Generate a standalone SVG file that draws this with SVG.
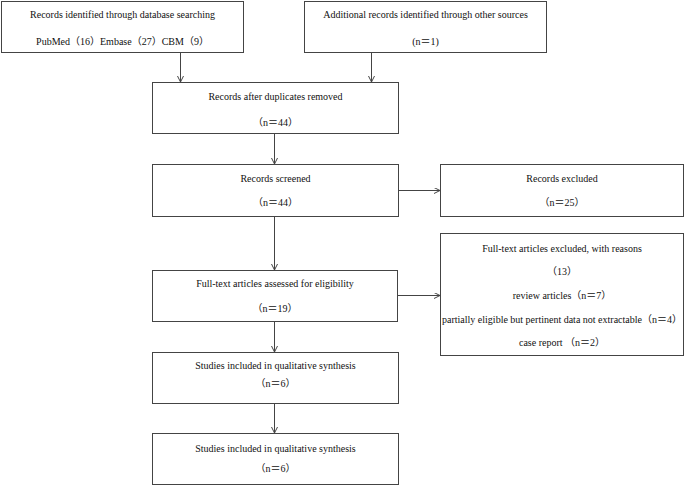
<svg xmlns="http://www.w3.org/2000/svg" width="685" height="486" viewBox="0 0 685 486">
<style>
.box{fill:#fff;stroke:#444;stroke-width:1}
.t{font-family:'Liberation Serif','Times New Roman','DejaVu Serif','Noto Sans CJK SC',serif;font-size:10px;fill:#111;text-anchor:middle}
.c{fill:none;stroke:#444;stroke-width:1}
</style>
<defs>
<marker id="ah" markerWidth="8" markerHeight="8" refX="6" refY="3" orient="auto" markerUnits="userSpaceOnUse">
<path d="M0,0 L6,3 L0,6" fill="none" stroke="#444" stroke-width="1"/>
</marker>
</defs>
<rect width="685" height="486" fill="#fff"/>
<g id="connectors">
<path class="c" d="M180.5,52 V82" marker-end="url(#ah)"/>
<path class="c" d="M371.5,52 V82" marker-end="url(#ah)"/>
<path class="c" d="M274.5,133 V164" marker-end="url(#ah)"/>
<path class="c" d="M399,190.5 H440" marker-end="url(#ah)"/>
<path class="c" d="M274.5,216 V270" marker-end="url(#ah)"/>
<path class="c" d="M397,295.5 H440" marker-end="url(#ah)"/>
<path class="c" d="M274.5,321 V352" marker-end="url(#ah)"/>
<path class="c" d="M274.5,403 V433" marker-end="url(#ah)"/>
</g>
<g id="db">
<rect class="box" x="1.5" y="1.5" width="242" height="51"/>
<text class="t" x="122.5" y="18">Records identified through database searching</text>
<text class="t" x="122.5" y="45">PubMed（16）Embase（27）CBM（9）</text>
</g>
<g id="other">
<rect class="box" x="304.5" y="1.5" width="242" height="51"/>
<text class="t" x="425.5" y="18">Additional records identified through other sources</text>
<text class="t" x="425.5" y="45">(n＝1)</text>
</g>
<g id="dup">
<rect class="box" x="152.5" y="82.5" width="246" height="51"/>
<text class="t" x="275.5" y="100">Records after duplicates removed</text>
<text class="t" x="275.5" y="126">（n＝44）</text>
</g>
<g id="screened">
<rect class="box" x="152.5" y="164.5" width="246" height="52"/>
<text class="t" x="275.5" y="182">Records screened</text>
<text class="t" x="275.5" y="206">（n＝44）</text>
</g>
<g id="excluded">
<rect class="box" x="440.5" y="164.5" width="243" height="52"/>
<text class="t" x="562" y="182">Records excluded</text>
<text class="t" x="562" y="206">（n＝25）</text>
</g>
<g id="fulltext">
<rect class="box" x="152.5" y="270.5" width="245" height="51"/>
<text class="t" x="275" y="287">Full-text articles assessed for eligibility</text>
<text class="t" x="275" y="312">（n＝19）</text>
</g>
<g id="ftexcluded">
<rect class="box" x="440.5" y="233.5" width="243" height="122"/>
<text class="t" x="562" y="252">Full-text articles excluded, with reasons</text>
<text class="t" x="562" y="275">（13）</text>
<text class="t" x="562" y="299">review articles（n＝7）</text>
<text class="t" x="562" y="323">partially eligible but pertinent data not extractable（n＝4）</text>
<text class="t" x="562" y="346">case report （n＝2）</text>
</g>
<g id="qual1">
<rect class="box" x="152.5" y="352.5" width="246" height="51"/>
<text class="t" x="275.5" y="369">Studies included in qualitative synthesis</text>
<text class="t" x="275.5" y="387">（n＝6）</text>
</g>
<g id="qual2">
<rect class="box" x="152.5" y="433.5" width="246" height="51"/>
<text class="t" x="275.5" y="452">Studies included in qualitative synthesis</text>
<text class="t" x="275.5" y="472">（n＝6）</text>
</g>
</svg>
